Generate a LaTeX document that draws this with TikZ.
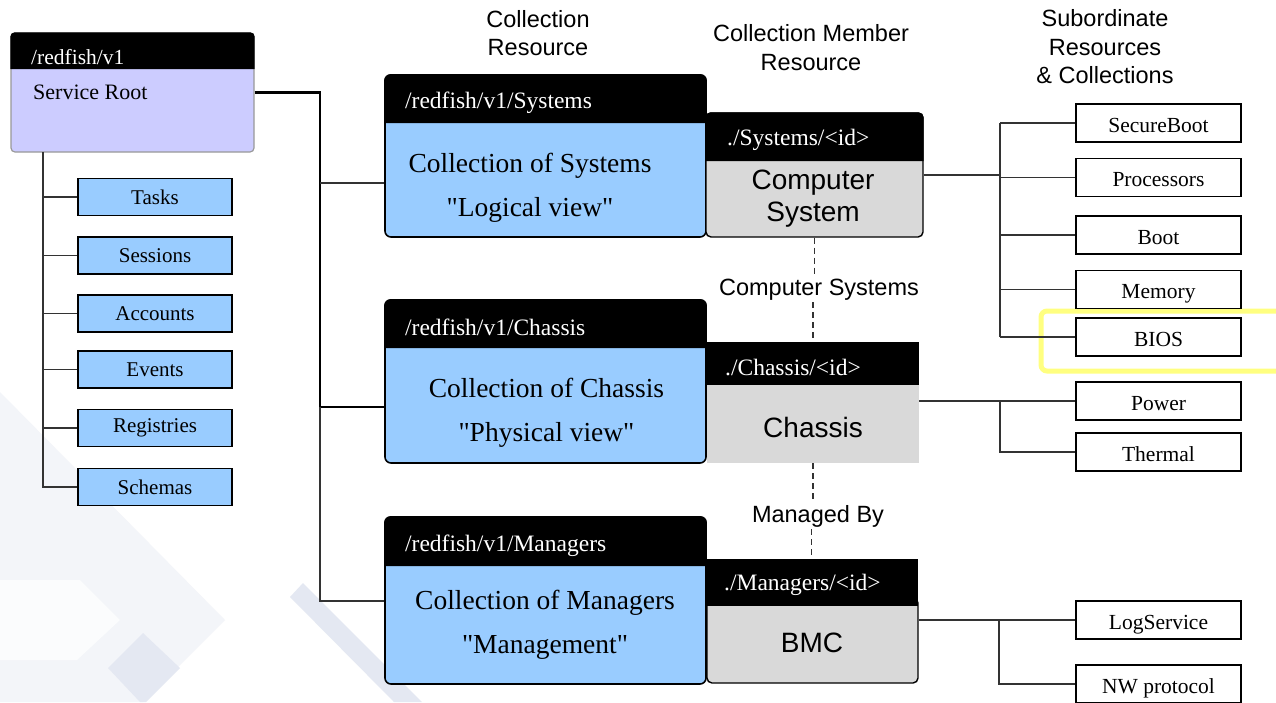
\documentclass[tikz,border=0pt]{standalone}
\usepackage{fontspec}
\setmainfont{Liberation Serif}
\newfontfamily\tnr{Liberation Serif}
\newfontfamily\arial{Liberation Sans}
\definecolor{cblue}{HTML}{99CCFF}
\definecolor{cgray}{HTML}{D9D9D9}
\definecolor{clav}{HTML}{CCCCFF}
\definecolor{cyel}{HTML}{FFFF80}
\definecolor{wm1}{HTML}{F3F5F9}
\definecolor{wm2}{HTML}{E4E8F2}
\definecolor{cline}{HTML}{333333}
\begin{document}
\begin{tikzpicture}[x=1pt,y=-1pt,
  conn/.style={draw=cline,line width=1.3},
  thickconn/.style={draw=black,line width=2.2},
  dashconn/.style={draw=cline,line width=1.2,dash pattern=on 6pt off 4pt},
  subbox/.style={draw=black,line width=1.8,fill=cblue,minimum width=154,minimum height=37,inner sep=0,font=\fontsize{21}{25}\selectfont},
  rbox/.style={draw=black,line width=1.4,fill=white,minimum width=165,minimum height=38,inner sep=0,text height=20,text depth=2,font=\fontsize{21.5}{25}\selectfont},
  collbox/.style={draw=black,line width=1.6,fill=cblue,rounded corners=6,minimum width=321,inner sep=0},
  collhdr/.style={anchor=west,text=white,inner sep=0,font=\tnr\fontsize{23.5}{28}\selectfont},
  colltext/.style={align=center,inner sep=0,font=\tnr\fontsize{27.5}{44}\selectfont},
  memtext/.style={align=center,inner sep=0,font=\arial\fontsize{28}{32}\selectfont},
  title/.style={align=center,inner sep=1,font=\arial\fontsize{23.5}{28.5}\selectfont},
  midlabel/.style={inner sep=2,font=\arial\fontsize{23.5}{28}\selectfont}]
\useasboundingbox (0,0) rectangle (1276,702);
\fill[white] (0,0) rectangle (1276,702);
% watermark shapes
\fill[wm1] (0,392) -- (225,620) -- (143,702) -- (0,702) -- cycle;
\fill[white!70!wm1] (0,580) -- (80,580) -- (120,620) -- (77,660) -- (0,660) -- cycle;
\fill[wm2] (143,633) -- (180,668) -- (146,702) -- (140,702) -- (108,668) -- cycle;
\fill[wm2] (290,597) -- (303,583) -- (422,702) -- (394,702) -- cycle;

% titles
\node[title] (t1) at (538,33) {Collection\\Resource};
\node[title] (t2) at (811,47.5) {Collection Member\\Resource};
\node[title] (t3) at (1105,47) {Subordinate\\Resources\\\& Collections};

% service root
\node[draw=black!40,line width=1.2,fill=clav,rounded corners=4,minimum width=243,minimum height=119,inner sep=0] (root) at (132.5,92.5) {};
\fill[black] (root.west |- 0,69) [rounded corners=4] -- (root.north west) -- (root.north east) [sharp corners] -- (root.east |- 0,69) -- cycle;
\node[anchor=west,text=white,inner sep=0,font=\fontsize{21.5}{25}\selectfont] (rooth) at (31,57) {/redfish/v1};
\node[anchor=west,inner sep=0,font=\fontsize{22}{26}\selectfont] (roott) at (33,92) {Service Root};

% left sub boxes
\node[subbox] (tasks) at (155,197) {Tasks};
\node[subbox] (sessions) at (155,255.5) {Sessions};
\node[subbox] (accounts) at (155,313.5) {Accounts};
\node[subbox] (events) at (155,369.5) {Events};
\node[subbox] (registries) at (155,428) {Registries};
\node[subbox] (schemas) at (155,487) {Schemas};
\coordinate (lt) at (43,152);
\draw[conn,line width=1.7] (lt) |- (schemas.west);
\foreach \b in {tasks,sessions,accounts,events,registries}{
  \draw[conn] (lt |- \b.west) -- (\b.west);
}

% collection boxes
\node[collbox,minimum height=162] (csys) at (545.5,156) {};
\fill[black] (csys.west |- 0,123) [rounded corners=6] -- (csys.north west) -- (csys.north east) [sharp corners] -- (csys.east |- 0,123) -- cycle;
\node[collhdr] (csysh) at (405,102.5) {/redfish/v1/Systems};
\node[colltext] (csyst) at (530,188) {Collection of Systems\\"Logical view"};

\node[collbox,minimum height=163] (cchas) at (545.5,381.5) {};
\fill[black] (cchas.west |- 0,348) [rounded corners=6] -- (cchas.north west) -- (cchas.north east) [sharp corners] -- (cchas.east |- 0,348) -- cycle;
\node[collhdr] (cchash) at (405,327.5) {/redfish/v1/Chassis};
\node[colltext] (cchast) at (546.5,413) {Collection of Chassis\\"Physical view"};

\node[collbox,minimum height=167] (cman) at (545.5,600.5) {};
\fill[black] (cman.west |- 0,566) [rounded corners=6] -- (cman.north west) -- (cman.north east) [sharp corners] -- (cman.east |- 0,566) -- cycle;
\node[collhdr] (cmanh) at (405,545.5) {/redfish/v1/Managers};
\node[colltext] (cmant) at (545,625) {Collection of Managers\\"Management"};

% member boxes
\node[draw=black,line width=1.4,fill=cgray,rounded corners=5,minimum width=217,minimum height=124,inner sep=0] (msys) at (814.5,175) {};
\fill[black] (msys.west |- 0,161) [rounded corners=5] -- (msys.north west) -- (msys.north east) [sharp corners] -- (msys.east |- 0,161) -- cycle;
\node[collhdr] (msysh) at (727,140) {./Systems/<id>};
\node[memtext] (msyst) at (813,198.5) {Computer\\System};

\node[fill=cgray,minimum width=212,minimum height=121,inner sep=0] (mchas) at (813,402.5) {};
\fill[black] (mchas.north west) rectangle (mchas.east |- 0,385);
\node[collhdr] (mchash) at (725,368) {./Chassis/<id>};
\node[memtext] (mchast) at (813,427.5) {Chassis};

\node[draw=black,line width=1.4,fill=cgray,rounded corners=5,minimum width=211,minimum height=85,inner sep=0] (mman) at (812.5,640.5) {};
\node[fill=black,minimum width=213,minimum height=47,inner sep=0] (mmanh) at (811.5,582.5) {};
\node[collhdr] (mmanht) at (724,585) {./Managers/<id>};
\node[memtext] (mmant) at (812,642.5) {BMC};

% middle labels and dashed links
\node[midlabel] (lcs) at (819,289.5) {Computer Systems};
\node[midlabel] (lmb) at (818,516) {Managed By};
\draw[dashconn] (msys.south) -- (msys.south |- lcs.north);
\draw[dashconn] (mchas.north |- lcs.south) -- (mchas.north);
\draw[dashconn] (mchas.south) -- (mchas.south |- lmb.north);
\draw[dashconn] (mmanh.north |- lmb.south) -- (mmanh.north);

% service root links
\coordinate (j0) at (320,183);
\coordinate (j1) at (320,407);
\coordinate (j2) at (320,601);
\draw[thickconn] (root.east) -| (j1) -- (j1 -| cchas.west);
\draw[conn] (j0) -- (j0 -| csys.west);
\draw[conn] (j1) -- (j2) -- (j2 -| cman.west);

% highlight
\begin{scope}
\clip (0,0) rectangle (1276,702);
\draw[cyel,line width=5,rounded corners=6] (1041,311) rectangle (1300,371);
\end{scope}

% right boxes
\node[rbox] (secboot) at (1158.5,123) {SecureBoot};
\node[rbox] (proc) at (1158.5,177.5) {Processors};
\node[rbox] (boot) at (1158.5,235) {Boot};
\node[rbox] (mem) at (1158.5,289.5) {Memory};
\node[rbox] (bios) at (1158.5,337) {BIOS};
\node[rbox] (power) at (1158.5,401) {Power};
\node[rbox] (thermal) at (1158.5,452) {Thermal};
\node[rbox] (logs) at (1158.5,620) {LogService};
\node[rbox] (nw) at (1158.5,684) {NW protocol};

\coordinate (rv) at (1000,0);
\draw[conn] (msys.east) -- (msys.east -| rv);
\draw[conn] (rv |- secboot.west) -- (rv |- bios.west);
\foreach \b in {secboot,proc,boot,mem,bios}{
  \draw[conn] (rv |- \b.west) -- (\b.west);
}
\draw[conn] (power.west -| mchas.east) -- (power.west);
\draw[conn] (rv |- power.west) |- (thermal.west);
\draw[conn] (logs.west -| mman.east) -- (logs.west);
\coordinate (rv2) at (999,0);
\draw[conn] (rv2 |- logs.west) |- (nw.west);
\end{tikzpicture}
\end{document}
